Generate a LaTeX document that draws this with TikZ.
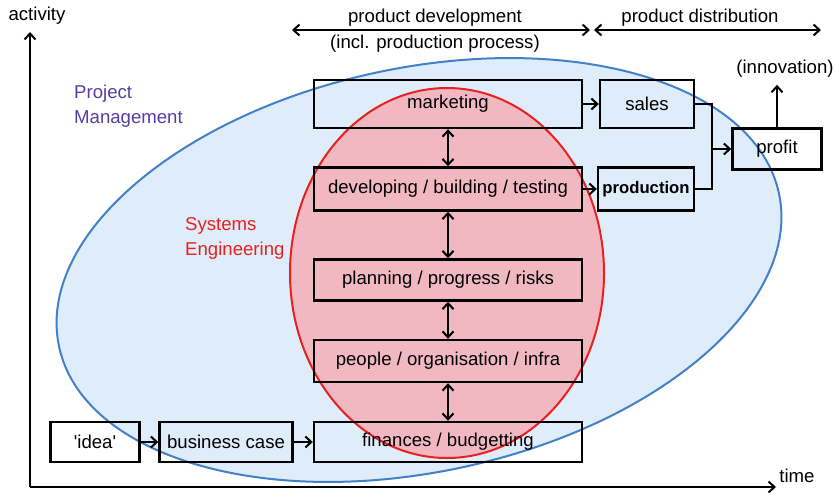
\documentclass[tikz,border=0pt]{standalone}
\usepackage{fontspec}
\setmainfont{Liberation Sans}
\usetikzlibrary{arrows.meta}
\tikzset{BOX/.style 2 args = {
    draw,
    line width = 2.4pt,
    minimum width = #1,
    minimum height = #2,
    inner sep = 0pt,
}}
\definecolor{B1}{RGB}{222,237,249}
\definecolor{B2}{RGB}{66,128,200}
\definecolor{R1}{RGB}{242,184,194}
\definecolor{R2}{RGB}{232,32,32}
\definecolor{P1}{RGB}{84,62,164}

\begin{document}
\begin{tikzpicture}[x=1pt,y=-1pt,line width=2pt,
    >={Straight Barb[length=6pt,width=11pt]}]
  \fontsize{18.6}{25}\selectfont
  \useasboundingbox (0,0) rectangle (835,493);
  % scopes
  \fill[B1,draw=B2,rotate around={12:(419,270)}] (419,270) ellipse [x radius=368pt, y radius=202pt];
  \fill[R1,draw=R2] (447,273) ellipse [x radius=157pt, y radius=185pt];
  \node[P1,align=left,anchor=north west](pm) at (67,78) {Project\\Management};
  \node[R2,align=left,anchor=north west](se) at (178,210) {Systems\\Engineering};
  % axes
  \coordinate (o) at (30,487);
  \coordinate (ytop) at (30,32);
  \coordinate (xend) at (776,487);
  \draw[->] (o) -- (ytop);
  \draw[->] (o) -- (xend);
  \node(act) at (37,16) {activity};
  \node(time) at (797,476) {time};
  % phases
  \coordinate (p1) at (292,30);
  \coordinate (p2) at (590,30);
  \coordinate (p3) at (594,30);
  \coordinate (p4) at (821,30);
  \draw[<->] (p1) -- (p2);
  \draw[<->] (p3) -- (p4);
  \node(pd) at (435,18) {product development};
  \node(pp) at (435,44) {(incl. production process)};
  \node(pr) at (700,18) {product distribution};
  % boxes
  \node[BOX={268pt}{48pt}](mkt)   at (448,104) {marketing};
  \node[BOX={94pt}{48pt}] (sales) at (647,104) {sales};
  \node[BOX={268pt}{43pt}](dev)   at (448,189) {developing / building / testing};
  \node[BOX={96pt}{43pt}] (prod)  at (646,189) {\fontsize{16.7}{20}\selectfont\bfseries production};
  \node[BOX={268pt}{41pt}](plan)  at (448,280) {planning / progress / risks};
  \node[BOX={268pt}{42pt}](ppl)   at (448,361) {people / organisation / infra};
  \node[BOX={89pt}{40pt}] (idea)  at (95,442)  {\textquotesingle idea\textquotesingle};
  \node[BOX={133pt}{40pt}](bc)    at (226,442) {business case};
  \node[BOX={268pt}{40pt}](fin)   at (448,442) {finances / budgetting};
  \node[BOX={89pt}{41pt}] (prof)  at (777,149) {profit};
  \node(inno) at (785,69) {(innovation)};
  \coordinate (j) at (712,149);
  % links
  \draw[->] (mkt) -- (sales);
  \draw[->] (dev) -- (prod);
  \draw (sales.east) -| (j);
  \draw (prod.east) -| (j);
  \draw[->] (j) -- (prof);
  \draw[->] (prof.north) -- (prof.north |- inno.south);
  \draw[<->] (mkt) -- (dev);
  \draw[<->] (dev) -- (plan);
  \draw[<->] (plan) -- (ppl);
  \draw[<->] (ppl) -- (fin);
  \draw[->] (idea) -- (bc);
  \draw[->] (bc) -- (fin);
\end{tikzpicture}
\end{document}
